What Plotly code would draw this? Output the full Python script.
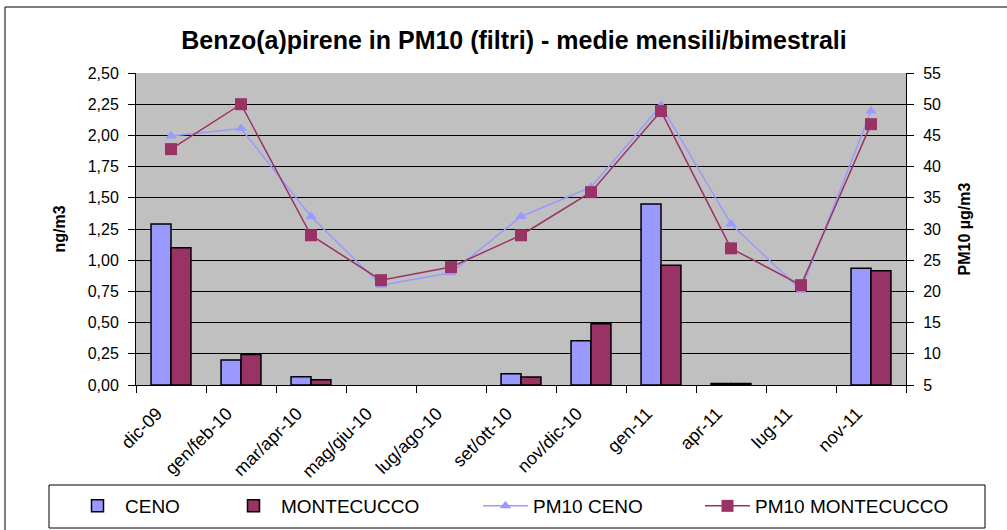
import plotly.graph_objects as go

categories = ["dic-09", "gen/feb-10", "mar/apr-10", "mag/giu-10", "lug/ago-10",
              "set/ott-10", "nov/dic-10", "gen-11", "apr-11", "lug-11", "nov-11"]
ceno = [1.29, 0.20, 0.066, None, None, 0.09, 0.355, 1.45, 0.012, None, 0.935]
montecucco = [1.10, 0.245, 0.043, None, None, 0.064, 0.49, 0.96, 0.012, None, 0.915]
pm10_ceno = [44.9, 46.1, 32.0, 21.0, 23.0, 32.0, 36.7, 49.8, 30.8, 20.2, 48.9]
pm10_montecucco = [42.8, 50.0, 29.0, 21.8, 23.9, 29.0, 35.9, 48.9, 26.9, 21.0, 46.8]
left_ticks = [0, 0.25, 0.5, 0.75, 1.0, 1.25, 1.5, 1.75, 2.0, 2.25, 2.5]
right_ticks = [5, 10, 15, 20, 25, 30, 35, 40, 45, 50, 55]

BLUE = "#9999FF"
WINE = "#993366"
FONT = "Liberation Sans, Arial, sans-serif"
W, H = 1007, 530
L, R, T, B = 136, 906, 73, 385

fig = go.Figure()
fig.add_trace(go.Bar(x=categories, y=ceno, name="CENO", legend="legend", showlegend=True,
                     marker=dict(color=BLUE, line=dict(color="black", width=1.5))))
fig.add_trace(go.Bar(x=categories, y=montecucco, name="MONTECUCCO", legend="legend2", showlegend=True,
                     marker=dict(color=WINE, line=dict(color="black", width=1.5))))
fig.add_trace(go.Scatter(x=categories, y=pm10_ceno, name="PM10 CENO", yaxis="y2", mode="lines+markers",
                         legend="legend3", showlegend=True,
                         line=dict(color=BLUE, width=1.5), marker=dict(symbol="triangle-up", size=10, color=BLUE)))
fig.add_trace(go.Scatter(x=categories, y=pm10_montecucco, name="PM10 MONTECUCCO", yaxis="y2", mode="lines+markers",
                         legend="legend4", showlegend=True,
                         line=dict(color=WINE, width=1.5), marker=dict(symbol="square", size=12, color=WINE)))

def leg(xpix):
    return dict(xref="container", yref="container", x=xpix / W, xanchor="left",
                y=1 - 506 / H, yanchor="middle", orientation="h", itemwidth=45, visible=True,
                font=dict(size=19, family=FONT), bgcolor="rgba(0,0,0,0)", borderwidth=0)

def px(xp):
    return (xp - L) / (R - L)

def py(yp):
    return (B - yp) / (B - T)

fig.update_layout(
    width=W, height=H,
    showlegend=True,
    margin=dict(l=L, r=W - R, t=T, b=H - B, autoexpand=False),
    paper_bgcolor="white", plot_bgcolor="#C0C0C0",
    font=dict(family=FONT, size=16, color="black"),
    separators=",.",
    barmode="group", bargap=0.43, bargroupgap=0,
    title=dict(text="<b>Benzo(a)pirene in PM10 (filtri) - medie mensili/bimestrali</b>",
               x=514 / W, xref="container", xanchor="center", y=1 - 40 / H, yref="container", yanchor="middle",
               font=dict(size=25, family=FONT)),
    xaxis=dict(type="category", range=[-0.5, 10.5], tickangle=-45, ticks="outside", tickson="boundaries",
               ticklen=7, tickcolor="black", showline=True, linecolor="black", linewidth=1, showgrid=False,
               tickfont=dict(size=18), automargin=False, ticklabelshift=-14, ticklabelstandoff=10),
    yaxis=dict(range=[0, 2.5], tickvals=left_ticks, tickformat=".2f", ticks="outside", ticklen=7,
               tickcolor="black", showline=True, linecolor="black", linewidth=1,
               gridcolor="black", gridwidth=1, zeroline=False, automargin=False, ticklabelstandoff=6,
               title=dict(text="<b>ng/m3</b>", standoff=18, font=dict(size=16))),
    yaxis2=dict(range=[5, 55], tickvals=right_ticks, overlaying="y", side="right", ticks="outside", ticklen=7,
                tickcolor="black", showline=True, linecolor="black", linewidth=1, showgrid=False, zeroline=False,
                automargin=False, ticklabelstandoff=6,
                title=dict(text="<b>PM10 µg/m3</b>", standoff=18, font=dict(size=16))),
    legend=leg(70),
    legend2=leg(226),
    legend3=leg(478),
    legend4=leg(700),
    shapes=[
        dict(type="rect", xref="paper", yref="paper",
             x0=px(49), x1=px(985), y0=py(528), y1=py(485),
             line=dict(color="black", width=1), fillcolor="rgba(0,0,0,0)", layer="above"),
        dict(type="rect", xref="paper", yref="paper",
             x0=px(5), x1=px(1015), y0=py(540), y1=py(7),
             line=dict(color="black", width=1), fillcolor="rgba(0,0,0,0)", layer="above"),
    ],
)

fig.write_html("out.html", config={"displayModeBar": False},
               post_script="document.body.style.margin='0';document.body.style.padding='0';")
